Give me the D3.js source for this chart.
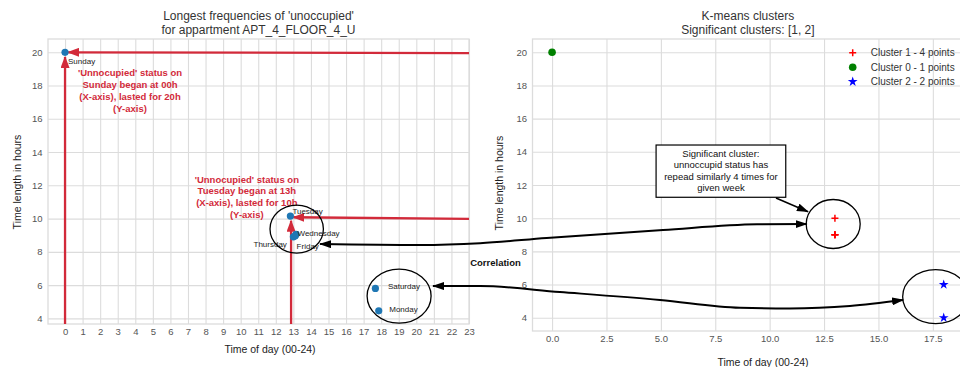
<!DOCTYPE html>
<html>
<head>
<meta charset="utf-8">
<script src="https://cdn.jsdelivr.net/npm/d3@7"></script>
<style>
  body { margin: 0; background: #fff; }
  text { font-family: "Liberation Sans", Arial, sans-serif; }
</style>
</head>
<body>
<div id="chart"></div>
<script>
// data
const days = ["Sunday", "Monday", "Tuesday", "Wednesday", "Thursday", "Friday", "Saturday"];
const startHour = [0, 17.86, 12.83, 13.15, 13.0, 13.1, 17.67];
const durationHours = [20.0, 4.45, 10.15, 9.05, 8.9, 8.95, 5.8];

const hourTicks = d3.range(0, 24);
const lengthTicks = [4, 6, 8, 10, 12, 14, 16, 18, 20];
const kmeansTicks = [0, 2.5, 5, 7.5, 10, 12.5, 15, 17.5];

const clusterIds = [1, 0, 2];
const clusterLabels = ["Cluster 1 - 4 points", "Cluster 0 - 1 points", "Cluster 2 - 2 points"];
const clusterX = [[13, 13, 13, 13], [0], [18, 18]];
const clusterY = [[10, 9, 9, 9], [20], [6, 4]];

const width = 960;
const height = 367;

const svg = d3.select("#chart")
  .append("svg")
  .attr("width", width)
  .attr("height", height);

const defs = svg.append("defs");
function arrowMarker(id, color, len, wid) {
  defs.append("marker")
    .attr("id", id)
    .attr("viewBox", `0 0 ${len} ${wid}`)
    .attr("refX", len - 1)
    .attr("refY", wid / 2)
    .attr("markerUnits", "userSpaceOnUse")
    .attr("markerWidth", len)
    .attr("markerHeight", wid)
    .attr("orient", "auto-start-reverse")
    .append("path")
    .attr("d", `M0,0 L${len},${wid / 2} L0,${wid} Z`)
    .attr("fill", color);
}
arrowMarker("arrowRed", "#d22a3a", 12, 9);
arrowMarker("arrowBlack", "#000", 12, 8);

const gridColor = "#dcdcdc";
const tickColor = "#555";
const red = "#d22a3a";

// left panel scales
const left = { x0: 48, x1: 469, y0: 39, y1: 324 };
const xL = d3.scaleLinear().domain([-0.97, 23]).range([left.x0, left.x1]);
const yL = d3.scaleLinear().domain([3.66, 20.8]).range([left.y1, left.y0]);

// right panel scales
const right = { x0: 532.5, x1: 963.3, y0: 39, y1: 331 };
const xR = d3.scaleLinear().domain([-0.9, 18.9]).range([right.x0, right.x1]);
const yR = d3.scaleLinear().domain([3.2, 20.8]).range([right.y1, right.y0]);

function drawFrame(box, xs, ys, xt, yt, xfmt) {
  const g = svg.append("g");
  const ph = box.y1 - box.y0, pw = box.x1 - box.x0;

  const gx = g.append("g")
    .attr("transform", `translate(0,${box.y1})`)
    .call(d3.axisBottom(xs).tickValues(xt).tickFormat(xfmt).tickSizeInner(-ph).tickSizeOuter(0).tickPadding(4.5));
  const gy = g.append("g")
    .attr("transform", `translate(${box.x0},0)`)
    .call(d3.axisLeft(ys).tickValues(yt).tickFormat(d3.format("d")).tickSizeInner(-pw).tickSizeOuter(0).tickPadding(5.5));

  [gx, gy].forEach(a => {
    a.select(".domain").remove();
    a.selectAll("line").attr("stroke", gridColor).attr("stroke-width", 1.1);
    a.selectAll("text").attr("fill", tickColor).style("font-size", "9.5px")
      .style("font-family", '"Liberation Sans", Arial, sans-serif');
  });

  g.append("rect")
    .attr("x", box.x0).attr("y", box.y0)
    .attr("width", pw).attr("height", ph)
    .attr("fill", "none").attr("stroke", gridColor).attr("stroke-width", 1.3);
}

drawFrame(left, xL, yL, hourTicks, lengthTicks, d3.format("d"));
drawFrame(right, xR, yR, kmeansTicks, lengthTicks, d3.format(".1f"));

// titles and axis labels
function title(lines, cx) {
  svg.append("text")
    .attr("x", cx).attr("y", 20)
    .attr("text-anchor", "middle")
    .attr("fill", "#333")
    .style("font-size", "12px")
    .selectAll("tspan")
    .data(lines)
    .join("tspan")
    .attr("x", cx)
    .attr("dy", (d, i) => i === 0 ? 0 : 13.5)
    .text(d => d);
}
title(["Longest frequencies of 'unoccupied'", "for appartment APT_4_FLOOR_4_U"], (left.x0 + left.x1) / 2);
title(["K-means clusters", "Significant clusters: [1, 2]"], (right.x0 + right.x1) / 2);

svg.append("text")
  .attr("x", 270).attr("y", 353)
  .attr("text-anchor", "middle").attr("fill", "#222")
  .style("font-size", "10.5px")
  .text("Time of day (00-24)");
svg.append("text")
  .attr("x", 763).attr("y", 365.5)
  .attr("text-anchor", "middle").attr("fill", "#222")
  .style("font-size", "10.5px")
  .text("Time of day (00-24)");

[[21, 182], [503, 183]].forEach(([x, y]) => {
  svg.append("text")
    .attr("transform", `translate(${x},${y}) rotate(-90)`)
    .attr("text-anchor", "middle").attr("fill", "#222")
    .style("font-size", "10.5px")
    .text("Time length in hours");
});

// red guide arrows (left panel)
const guides = [
  { from: [23, 19.95], to: [0.17, 20.0] },
  { from: [0, 3.66], to: [0, 19.72] },
  { from: [23, 9.98], to: [13.0, 10.08] },
  { from: [12.87, 3.66], to: [12.87, 9.87] }
];
svg.append("g")
  .selectAll("line")
  .data(guides)
  .join("line")
  .attr("x1", d => xL(d.from[0])).attr("y1", d => yL(d.from[1]))
  .attr("x2", d => xL(d.to[0])).attr("y2", d => yL(d.to[1]))
  .attr("stroke", red).attr("stroke-width", 2.3)
  .attr("marker-end", "url(#arrowRed)");

// left scatter
const pts = days.map((d, i) => ({ day: d, x: startHour[i], y: durationHours[i] }));
svg.append("g")
  .selectAll("circle")
  .data(pts)
  .join("circle")
  .attr("cx", d => xL(d.x))
  .attr("cy", d => yL(d.y))
  .attr("r", 3.6)
  .attr("fill", "#1f77b4");

const labelOffset = {
  Sunday: [3, 12, "start"], Monday: [10.5, 1, "start"], Tuesday: [2, -2, "start"],
  Wednesday: [1.5, 1.5, "start"], Thursday: [-6.5, 10, "end"], Friday: [1.5, 13, "start"],
  Saturday: [12.5, 1, "start"]
};
svg.append("g")
  .selectAll("text")
  .data(pts)
  .join("text")
  .attr("x", d => xL(d.x) + labelOffset[d.day][0])
  .attr("y", d => yL(d.y) + labelOffset[d.day][1])
  .attr("text-anchor", d => labelOffset[d.day][2])
  .attr("fill", "#222")
  .style("font-size", "8px")
  .text(d => d.day);

// red notes
function note(lines, cx, cy, step) {
  svg.append("text")
    .attr("x", xL(cx)).attr("y", yL(cy))
    .attr("text-anchor", "middle").attr("fill", red)
    .style("font-size", "9.5px").style("font-weight", "bold")
    .selectAll("tspan")
    .data(lines)
    .join("tspan")
    .attr("x", xL(cx))
    .attr("dy", (d, i) => i === 0 ? 0 : step)
    .text(d => d);
}
note(["'Unnocupied' status on", "Sunday began at 00h", "(X-axis), lasted for 20h", "(Y-axis)"], 3.7, 18.6, 12);
note(["'Unnocupied' status on", "Tuesday began at 13h", "(X-axis), lasted for 10h", "(Y-axis)"], 10.35, 12.16, 11.7);

// right scatter
const clusterPts = clusterIds.flatMap((c, k) =>
  clusterX[k].map((x, j) => ({ cluster: c, x: x, y: clusterY[k][j] })));
const clusterColor = { 0: "green", 1: "red", 2: "blue" };
const plusPath = "M-3.5,0 L3.5,0 M0,-3.5 L0,3.5";
const star = d3.symbol().type(d3.symbolStar).size(30)();

function marker(g, c) {
  if (c === 1) {
    g.append("path").attr("d", plusPath).attr("stroke", clusterColor[c]).attr("stroke-width", 1.5);
  } else if (c === 0) {
    g.append("circle").attr("r", 3.8).attr("fill", clusterColor[c]);
  } else {
    g.append("path").attr("d", star).attr("fill", clusterColor[c]);
  }
}

svg.append("g")
  .selectAll("g")
  .data(clusterPts)
  .join("g")
  .attr("transform", d => `translate(${xR(d.x)},${yR(d.y)})`)
  .each(function(d) { marker(d3.select(this), d.cluster); });

// legend
const legend = svg.append("g").attr("transform", "translate(852.7,52.7)");
clusterIds.forEach((c, i) => {
  const row = legend.append("g").attr("transform", `translate(0,${i * 14.5})`);
  marker(row, c);
  row.append("text")
    .attr("x", 18).attr("y", 3.5)
    .attr("fill", "#333")
    .style("font-size", "10px")
    .text(clusterLabels[i]);
});

// hand-drawn annotations
const ann = svg.append("g").attr("fill", "none").attr("stroke", "#000");
const ellipses = [
  { s: "L", cx: 13.19, cy: 9.37, rx: 26.7, ry: 24 },
  { s: "L", cx: 19.02, cy: 5.34, rx: 32, ry: 27 },
  { s: "R", cx: 12.92, cy: 9.65, rx: 27, ry: 24.5 },
  { s: "R", cx: 17.63, cy: 5.27, rx: 33, ry: 27 }
];
ann.selectAll("ellipse")
  .data(ellipses)
  .join("ellipse")
  .attr("cx", d => d.s === "L" ? xL(d.cx) : xR(d.cx))
  .attr("cy", d => d.s === "L" ? yL(d.cy) : yR(d.cy))
  .attr("rx", d => d.rx).attr("ry", d => d.ry)
  .attr("stroke-width", 1.3);

const pL = (x, y) => [xL(x), yL(y)];
const pR = (x, y) => [xR(x), yR(y)];
const links = [
  [pL(14.52, 8.47), pL(20.21, 8.41), pR(-3.31, 8.49), pR(-0.25, 8.81), pR(5.1, 9.29), pR(9.42, 9.63), pR(11.7, 9.65)],
  [pL(20.95, 5.94), pR(-3.31, 5.91), pR(0.36, 5.55), pR(4.96, 5.07), pR(8.64, 4.6), pR(10.93, 4.56), pR(13.69, 4.71), pR(16.13, 5.07)]
];
const curve = d3.line().curve(d3.curveMonotoneX);
ann.selectAll("path.link")
  .data(links)
  .join("path")
  .attr("class", "link")
  .attr("d", curve)
  .attr("stroke-width", 2)
  .attr("marker-start", "url(#arrowBlack)")
  .attr("marker-end", "url(#arrowBlack)");

svg.append("text")
  .attr("x", xR(-2.6)).attr("y", yR(7.12))
  .attr("text-anchor", "middle").attr("fill", "#111")
  .style("font-size", "9.5px").style("font-weight", "bold")
  .text("Correlation");

// callout box
const boxA = pR(4.78, 14.41), boxB = pR(10.74, 11.26);
svg.append("rect")
  .attr("x", boxA[0]).attr("y", boxA[1])
  .attr("width", boxB[0] - boxA[0]).attr("height", boxB[1] - boxA[1])
  .attr("fill", "#fff").attr("stroke", "#000").attr("stroke-width", 1.2);
svg.append("text")
  .attr("x", xR(7.76)).attr("y", boxA[1] + 11.7)
  .attr("text-anchor", "middle").attr("fill", "#111")
  .style("font-size", "9.5px")
  .selectAll("tspan")
  .data(["Significant cluster:", "unnoccupid status has", "repead similarly 4 times for", "given week"])
  .join("tspan")
  .attr("x", xR(7.76))
  .attr("dy", (d, i) => i === 0 ? 0 : 11.4)
  .text(d => d);

const callA = pR(10.29, 11.22), callB = pR(11.76, 10.39);
svg.append("line")
  .attr("x1", callA[0]).attr("y1", callA[1])
  .attr("x2", callB[0]).attr("y2", callB[1])
  .attr("stroke", "#000").attr("stroke-width", 1.5)
  .attr("marker-end", "url(#arrowBlack)");
</script>
</body>
</html>
